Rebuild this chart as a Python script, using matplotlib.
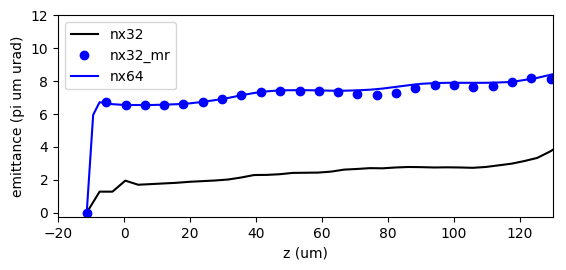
import numpy as np
import matplotlib
matplotlib.use('Agg')
import matplotlib.pyplot as plt

# nx32 (coarse grid)
z32 = [-11.3, -7.4, -3.5, 0.4, 4.3, 8.2, 12.1, 16.0, 19.9, 23.8, 27.7, 31.6,
       35.5, 39.4, 43.3, 47.2, 51.1, 55.0, 58.9, 62.8, 66.7, 70.6, 74.5, 78.4,
       82.3, 86.2, 90.1, 94.0, 97.9, 101.8, 105.7, 109.6, 113.5, 117.4, 121.3,
       125.2, 129.1, 133.0]
emit32 = [0.0, 1.28, 1.28, 1.95, 1.70, 1.74, 1.78, 1.82, 1.88, 1.92, 1.96, 2.02,
          2.14, 2.29, 2.30, 2.34, 2.42, 2.43, 2.44, 2.50, 2.62, 2.66, 2.71, 2.70,
          2.75, 2.78, 2.77, 2.75, 2.76, 2.75, 2.73, 2.78, 2.88, 2.98, 3.14,
          3.33, 3.72, 4.20]

# nx32_mr (points)
z_mr = [-11.3, -5.4, 0.5, 6.3, 12.2, 18.0, 23.9, 29.7, 35.6, 41.5, 47.3, 53.2,
        59.0, 64.9, 70.7, 76.6, 82.4, 88.3, 94.1, 100.0, 105.9, 111.7, 117.6,
        123.4, 129.3]
emit_mr = [0.0, 6.71, 6.54, 6.57, 6.57, 6.61, 6.74, 6.93, 7.15, 7.34, 7.42, 7.42,
           7.39, 7.33, 7.21, 7.16, 7.28, 7.58, 7.78, 7.78, 7.64, 7.71, 7.94,
           8.18, 8.15]

# nx64 (fine grid)
z64 = [-11.3, -9.35, -7.4, -3.5, 0.4, 4.3, 8.2, 12.1, 16.0, 19.9, 23.8, 27.7,
       31.6, 35.5, 39.4, 43.3, 47.2, 51.1, 55.0, 58.9, 62.8, 66.7, 70.6, 74.5,
       78.4, 82.3, 86.2, 90.1, 94.0, 97.9, 101.8, 105.7, 109.6, 113.5, 117.4,
       121.3, 125.2, 129.1, 133.0]
emit64 = [0.0, 5.95, 6.72, 6.60, 6.55, 6.55, 6.55, 6.57, 6.60, 6.65, 6.74, 6.85,
          6.98, 7.14, 7.28, 7.38, 7.44, 7.45, 7.45, 7.44, 7.42, 7.42, 7.44, 7.48,
          7.55, 7.65, 7.75, 7.84, 7.88, 7.90, 7.90, 7.90, 7.90, 7.92, 7.95,
          8.07, 8.20, 8.38, 8.60]

fig = plt.figure(figsize=(5.66, 2.7), dpi=100)
ax = fig.add_axes([0.1025, 0.197, 0.8745, 0.746])

ax.plot(z32, emit32, 'k-', label='nx32')
ax.plot(z_mr, emit_mr, 'bo', label='nx32_mr')
ax.plot(z64, emit64, 'b-', label='nx64')

ax.set_xlim(-20, 130)
ax.set_ylim(-0.25, 12)
ax.set_xlabel('z (um)')
ax.set_ylabel('emittance (pi um urad)')
ax.legend(loc='upper left')

fig.savefig('out.png', dpi=100)
